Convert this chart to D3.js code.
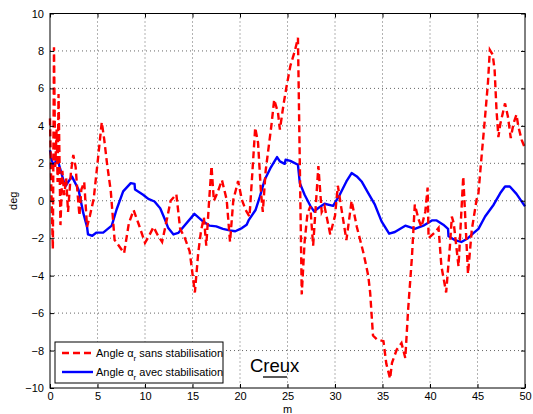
<!DOCTYPE html>
<html>
<head>
<meta charset="utf-8">
<script src="https://cdn.jsdelivr.net/npm/d3@7"></script>
<style>
  body { margin: 0; background: #fff; }
  text { font-family: "Liberation Sans", Arial, sans-serif; }
</style>
</head>
<body>
<svg id="chart" width="533" height="414"></svg>
<script>
// tick values
const xTicks = [0, 5, 10, 15, 20, 25, 30, 35, 40, 45, 50];
const yTicks = [-10, -8, -6, -4, -2, 0, 2, 4, 6, 8, 10];

// red dashed series: angle without stabilisation [m, deg]
const sansStab = [
  [0, 4.4], [0.15, 0.5], [0.3, -2.6], [0.42, 8.2], [0.55, 1.8], [0.7, 3.8], [0.8, 1.0],
  [0.9, 5.7], [1.1, -1.3], [1.3, 1.6], [1.5, 0.3], [1.7, 1.2], [1.9, -0.6], [2.2, 1.5],
  [2.45, 2.45], [2.7, 1.8], [2.9, 0.4], [3.1, -0.8], [3.3, 0.6], [3.6, 1.0], [3.9, -1.4],
  [4.2, -0.8], [4.6, 0.1], [5.0, 2.0], [5.45, 4.2], [5.7, 3.3], [6.0, 2.0], [6.4, 0.5],
  [6.8, -2.1], [7.1, -2.3], [7.8, -2.8], [8.3, -1.2], [8.8, -0.5], [9.3, -1.2], [10.0, -2.25],
  [10.4, -1.9], [10.9, -1.4], [11.3, -1.8], [11.8, -2.2], [12.3, -1.0], [12.7, 0.0],
  [13.3, 0.35], [13.7, -1.5], [14.2, -2.0], [14.7, -2.7], [15.0, -3.9], [15.25, -4.9],
  [15.6, -2.8], [15.9, -1.6], [16.2, -0.9], [16.45, -2.4], [16.75, 0.0], [17.0, 1.85],
  [17.25, 0.0], [17.6, 0.4], [18.1, 1.1], [18.6, 0.05], [18.95, -2.2], [19.3, 0.05],
  [19.8, 1.05], [20.2, 0.05], [20.6, -0.5], [21.0, -0.85], [21.3, 1.5], [21.6, 3.9],
  [21.9, 3.1], [22.2, 0.5], [22.4, -0.6], [22.7, 1.6], [23.3, 4.0], [23.6, 5.4], [24.0, 4.7],
  [24.2, 3.8], [24.6, 5.2], [24.9, 6.1], [25.3, 7.2], [25.8, 8.05], [26.1, 8.7], [26.5, -5.0],
  [26.8, -2.2], [27.1, -0.7], [27.4, -0.3], [27.7, -2.4], [28.25, 1.85], [28.6, -0.6],
  [28.9, -0.3], [29.5, -1.8], [30.0, -0.8], [30.3, 0.8], [30.7, -0.5], [31.2, -2.1],
  [31.75, 0.0], [32.3, -1.4], [33.0, -2.8], [33.5, -4.0], [33.7, -4.9], [34.0, -7.2],
  [34.4, -7.4], [35.1, -7.5], [35.4, -8.7], [35.8, -9.5], [36.0, -8.65], [36.5, -7.95],
  [37.0, -7.6], [37.4, -8.4], [37.7, -5.8], [38.1, -3.0], [38.4, -0.2], [38.8, -1.0],
  [39.1, -1.4], [39.5, -0.6], [39.75, 0.7], [39.85, -2.0], [40.5, -1.7], [40.9, -1.45],
  [41.2, -3.5], [41.7, -4.9], [42.1, -2.4], [42.3, -0.85], [42.5, -1.2], [43.0, -3.5],
  [43.5, 1.3], [44.0, -3.9], [44.4, -1.55], [44.9, 0.05], [45.1, 0.4], [45.4, 2.2],
  [45.8, 4.5], [46.1, 6.3], [46.3, 8.05], [46.6, 7.8], [46.8, 7.0], [47.0, 4.85], [47.2, 3.4],
  [47.4, 4.1], [47.9, 5.2], [48.2, 4.5], [48.5, 3.35], [48.8, 4.15], [49.1, 4.6], [49.3, 3.96],
  [49.65, 3.25], [50, 2.8]
];

// blue solid series: angle with stabilisation [m, deg]
const avecStab = [
  [0, 2.7], [0.3, 1.9], [0.8, 2.2], [1.6, 0.76], [2.3, 1.3], [3.0, 0.6], [3.5, -0.65],
  [3.9, -1.4], [4.0, -1.8], [4.45, -1.87], [4.9, -1.7], [5.6, -1.7], [6.5, -1.33], [7.0, -0.48],
  [7.7, 0.5], [8.5, 0.94], [8.9, 0.9], [8.95, 0.6], [9.8, 0.32], [10.35, 0.1], [11.0, -0.04],
  [11.6, -0.4], [12.1, -1.0], [12.45, -1.46], [13.0, -1.8], [13.5, -1.72], [15.2, -0.7],
  [16.1, -1.1], [16.8, -1.33], [17.5, -1.37], [18.2, -1.5], [18.9, -1.58], [19.5, -1.63],
  [20.2, -1.46], [20.7, -1.28], [20.9, -1.05], [21.65, -0.48], [22.1, 0.23], [22.6, 1.12],
  [23.2, 1.74], [23.9, 2.33], [24.2, 2.1], [24.7, 1.97], [24.8, 2.19], [25.3, 2.13],
  [26.1, 1.92], [26.3, 0.94], [26.8, 0.32], [27.4, -0.27], [27.8, -0.57], [28.25, -0.39],
  [28.9, -0.16], [29.8, -0.27], [30.5, 0.32], [31.2, 1.03], [31.75, 1.48], [32.3, 1.3],
  [32.8, 1.03], [33.5, 0.41], [34.2, -0.21], [34.9, -1.1], [35.7, -1.76], [36.3, -1.67],
  [37.4, -1.33], [37.8, -1.4], [38.4, -1.5], [39.3, -1.33], [40.2, -1.05], [40.7, -1.05],
  [41.4, -1.28], [41.9, -1.5], [41.95, -1.9], [42.6, -2.1], [43.3, -2.2], [44.0, -2.0],
  [44.6, -1.72], [45.1, -1.5], [45.8, -0.84], [46.7, -0.21], [47.4, 0.41], [47.9, 0.76],
  [48.4, 0.76], [49.1, 0.37], [50, -0.3]
];

const legendLabels = ["sans stabilisation", "avec stabilisation"];
const seriesColors = ["#ff0000", "#0000ff"];

// plot box (names avoid window.top)
const plotLeft = 50, plotRight = 525, plotTop = 13.5, plotBottom = 388;

const svg = d3.select("#chart");
const x = d3.scaleLinear().domain([0, 50]).range([plotLeft, plotRight]);
const y = d3.scaleLinear().domain([-10, 10]).range([plotBottom, plotTop]);

// dotted grid
const grid = svg.append("g")
  .attr("stroke", "#666")
  .attr("stroke-width", 1)
  .attr("stroke-dasharray", "1,3");
xTicks.slice(1, -1).forEach((t) => {
  grid.append("line")
    .attr("x1", x(t)).attr("x2", x(t))
    .attr("y1", plotTop).attr("y2", plotBottom);
});
yTicks.slice(1, -1).forEach((t) => {
  grid.append("line")
    .attr("x1", plotLeft).attr("x2", plotRight)
    .attr("y1", y(t)).attr("y2", y(t));
});

// lines
const line = d3.line().x((d) => x(d[0])).y((d) => y(d[1]));

svg.append("path")
  .datum(avecStab)
  .attr("d", line)
  .attr("fill", "none")
  .attr("stroke", seriesColors[1])
  .attr("stroke-width", 2.4)
  .attr("stroke-linejoin", "round");

svg.append("path")
  .datum(sansStab)
  .attr("d", line)
  .attr("fill", "none")
  .attr("stroke", seriesColors[0])
  .attr("stroke-width", 2.4)
  .attr("stroke-dasharray", "7,4");

// axes, ticks pointing inwards like matlab
const axisStyle = (g) => {
  g.select(".domain").remove();
  g.selectAll("text")
    .style("font-size", "11px")
    .attr("fill", "#000");
  g.selectAll(".tick line").attr("stroke", "#000");
};

svg.append("g")
  .attr("transform", `translate(0,${plotBottom})`)
  .call(d3.axisBottom(x).tickValues(xTicks).tickSizeInner(-4).tickPadding(4))
  .call(axisStyle);
svg.append("g")
  .attr("transform", `translate(0,${plotTop})`)
  .call(d3.axisTop(x).tickValues(xTicks).tickSizeInner(-4).tickFormat(""))
  .call(axisStyle);
svg.append("g")
  .attr("transform", `translate(${plotLeft},0)`)
  .call(d3.axisLeft(y).tickValues(yTicks).tickSizeInner(-4).tickPadding(6))
  .call(axisStyle);
svg.append("g")
  .attr("transform", `translate(${plotRight},0)`)
  .call(d3.axisRight(y).tickValues(yTicks).tickSizeInner(-4).tickFormat(""))
  .call(axisStyle);

// box
svg.append("rect")
  .attr("x", plotLeft).attr("y", plotTop)
  .attr("width", plotRight - plotLeft).attr("height", plotBottom - plotTop)
  .attr("fill", "none")
  .attr("stroke", "#000")
  .attr("stroke-width", 1);

// axis labels
svg.append("text")
  .attr("x", (plotLeft + plotRight) / 2).attr("y", 413)
  .attr("text-anchor", "middle")
  .style("font-size", "11px")
  .text("m");
svg.append("text")
  .attr("transform", `translate(17,${(plotTop + plotBottom) / 2}) rotate(-90)`)
  .attr("text-anchor", "middle")
  .style("font-size", "11px")
  .text("deg");

// legend
const legend = svg.append("g");
legend.append("rect")
  .attr("x", 55).attr("y", 342)
  .attr("width", 168).attr("height", 41)
  .attr("fill", "#fff")
  .attr("stroke", "#000")
  .attr("stroke-width", 1);

legendLabels.forEach((label, i) => {
  const ly = 353 + i * 19;
  legend.append("line")
    .attr("x1", 62).attr("x2", 93)
    .attr("y1", ly).attr("y2", ly)
    .attr("stroke", seriesColors[i])
    .attr("stroke-width", 2.4)
    .attr("stroke-dasharray", i === 0 ? "7,4" : null);
  const t = legend.append("text")
    .attr("x", 96).attr("y", ly + 4)
    .style("font-size", "11px");
  t.append("tspan").text("Angle \u03b1");
  t.append("tspan").attr("dy", 4).style("font-size", "8px").text("r");
  t.append("tspan").attr("dy", -4).text(" " + label);
});

// "Creux" annotation
svg.append("text")
  .attr("x", 250).attr("y", 372)
  .style("font-size", "18.5px")
  .text("Creux");
svg.append("line")
  .attr("x1", 263).attr("x2", 287)
  .attr("y1", 377).attr("y2", 377)
  .attr("stroke", "#000")
  .attr("stroke-width", 1.3);
</script>
</body>
</html>
